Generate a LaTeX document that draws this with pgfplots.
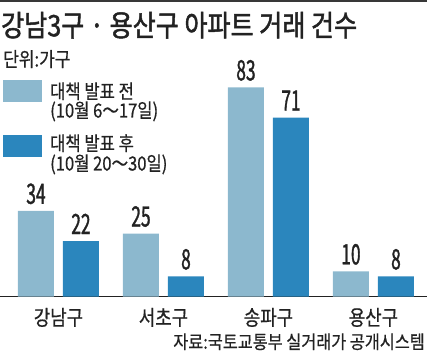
\documentclass[border=0pt]{standalone}
\usepackage{fontspec}
\setmainfont{Noto Sans CJK KR}[FakeStretch=0.85, FakeBold=0.6]
\newfontfamily\titlefont{Noto Sans CJK KR}[FakeStretch=0.85, FakeBold=1.6]
\newfontfamily\numfont{Noto Sans CJK KR}[FakeStretch=0.62, FakeBold=1.2]
\newfontfamily\srcfont{Noto Sans CJK KR}[FakeStretch=0.88, FakeBold=0.6]
\usepackage{pgfplots}
\pgfplotsset{compat=1.18}
\definecolor{lightbar}{HTML}{8CB8CE}
\definecolor{darkbar}{HTML}{2B86BD}
\definecolor{txt}{HTML}{222222}
\begin{document}
\begin{tikzpicture}[x=1pt,y=1pt]
\useasboundingbox (0,-56.5) rectangle (427,296.5);
\begin{axis}[
  at={(0pt,0pt)}, anchor=south west,
  scale only axis, width=427pt, height=252pt,
  xmin=-0.557, xmax=3.51, ymin=0, ymax=100,
  clip=false,
  ybar, bar width=36pt,
  axis x line*=bottom, axis y line=none,
  x axis line style={draw=txt, line width=1pt, -},
  xtick={0,1,2,3},
  xticklabels={강남구,서초구,송파구,용산구},
  xtick style={draw=none},
  xticklabel style={font=\fontsize{21}{21}\selectfont, text=txt, anchor=base, yshift=-24.5pt},
  ytick=\empty,
  /pgf/number format/assume math mode=true,
  nodes near coords,
  nodes near coords style={font=\numfont\fontsize{28}{28}\selectfont, text=txt, anchor=base, yshift=7pt},
]
\addplot[fill=lightbar, draw=none, bar shift=-22.5pt] coordinates {(0,34) (1,25) (2,83) (3,10)};
\addplot[fill=darkbar, draw=none, bar shift=22.5pt] coordinates {(0,22) (1,8) (2,71) (3,8)};
\end{axis}
% top border
\fill[txt!90] (0,294.5) rectangle (427,296.5);
% title
\node[anchor=base west, inner sep=0, text=txt, font=\titlefont\fontsize{29.5}{29.5}\selectfont] at (1,260.3) {강남3구 · 용산구 아파트 거래 건수};
\node[anchor=base west, inner sep=0, text=txt, font=\fontsize{20}{20}\selectfont] at (3,229.9) {단위:가구};
% legend
\fill[lightbar] (3,194.5) rectangle (42,216.5);
\fill[darkbar] (3,139.5) rectangle (42,161.5);
\node[anchor=base west, inner sep=0, text=txt, font=\fontsize{19.5}{19.5}\selectfont] at (50,198) {대책 발표 전};
\node[anchor=base west, inner sep=0, text=txt, font=\fontsize{19.5}{19.5}\selectfont] at (50,179) {(10월 6～17일)};
\node[anchor=base west, inner sep=0, text=txt, font=\fontsize{19.5}{19.5}\selectfont] at (50,146) {대책 발표 후};
\node[anchor=base west, inner sep=0, text=txt, font=\fontsize{19.5}{19.5}\selectfont] at (50,126) {(10월 20～30일)};
% source
\node[anchor=base east, inner sep=0, text=txt, font=\srcfont\fontsize{18.5}{18.5}\selectfont] at (425,-52.2) {자료:국토교통부 실거래가 공개시스템};
\end{tikzpicture}
\end{document}
